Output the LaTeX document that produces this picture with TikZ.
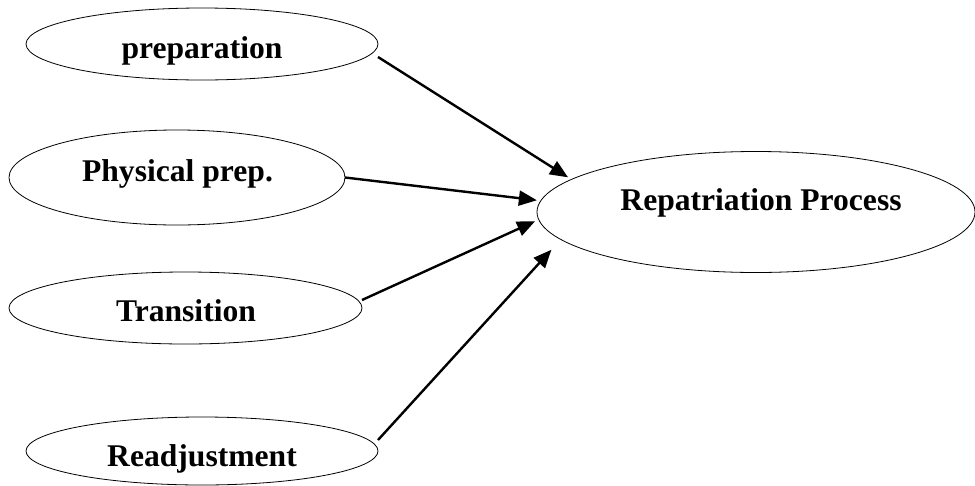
\documentclass[tikz,border=0pt]{standalone}
\usepackage{fontspec}
\setmainfont{Liberation Serif}
\usetikzlibrary{shapes.geometric,arrows.meta}

\begin{document}
\begin{tikzpicture}[x=1pt,y=-1pt,
  oval/.style={draw,ellipse,line width=0.8pt,inner sep=0pt,outer sep=0pt},
  lbl/.style={anchor=base,inner sep=0pt,font=\fontsize{31.6}{36}\selectfont\bfseries},
  link/.style={line width=2.4pt,-{Triangle[length=18pt,width=15pt]}}]
\useasboundingbox (0,0) rectangle (975,485);
\node[oval,minimum width=352pt,minimum height=72pt] (prep) at (202,44) {};
\node[oval,minimum width=336pt,minimum height=95pt] (phys) at (177,177.5) {};
\node[oval,minimum width=353pt,minimum height=72pt] (trans) at (185.5,308) {};
\node[oval,minimum width=352pt,minimum height=68pt] (readj) at (202,451) {};
\node[oval,minimum width=438pt,minimum height=121pt] (rep) at (756,212) {};
\node[lbl] (preptxt) at (202,58) {preparation};
\node[lbl] (physt) at (177.5,181.5) {Physical prep.};
\node[lbl] (transt) at (186,321.5) {Transition};
\node[lbl] (readjt) at (202,466) {Readjustment};
\node[lbl] (rept) at (761,210) {Repatriation Process};
\draw[link,shorten >=4pt] ([yshift=-13pt]prep.east) -- (rep.170);
\draw[link,shorten >=4pt] (phys.east) -- (rep.177);
\draw[link,shorten >=4pt] ([yshift=8pt]trans.east) -- (rep.182.5);
\draw[link,shorten >=14pt] ([yshift=11pt]readj.east) -- (rep.188);
\end{tikzpicture}
\end{document}
